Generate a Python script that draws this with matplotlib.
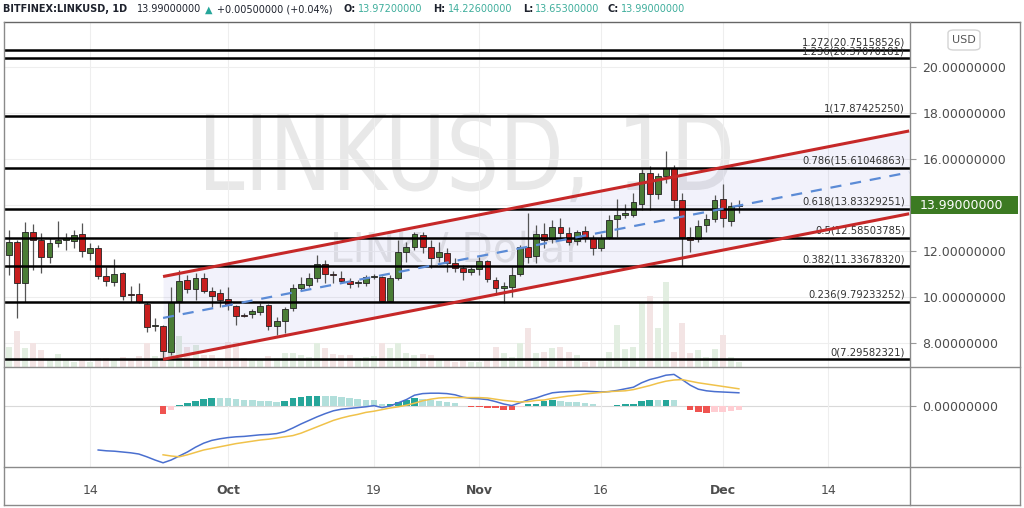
import numpy as np
import pandas as pd
import matplotlib
matplotlib.use("Agg")
import matplotlib.pyplot as plt
from matplotlib.lines import Line2D
from matplotlib.patches import Rectangle, FancyBboxPatch, PathPatch
from matplotlib.textpath import TextPath
from matplotlib.font_manager import FontProperties
from matplotlib.transforms import Affine2D, IdentityTransform, blended_transform_factory

plt.rcParams['font.family'] = ['DejaVu Sans']

# ---------------- data ----------------
symbol = "BITFINEX:LINKUSD, 1D"
watermark_main = "LINKUSD, 1D"
watermark_sub = "LINK / Dollar"
currency = "USD"
start_date = "2020-09-04"

opens = [11.83, 12.39, 10.61, 12.83, 12.48, 11.74, 12.35, 12.50, 12.43, 12.74,
         11.91, 12.13, 10.91, 10.65, 11.04, 10.09, 10.13, 9.70, 8.72, 8.74,
         7.61, 9.83, 10.74, 10.35, 10.83, 10.26, 10.17, 9.91, 9.61, 9.22,
         9.26, 9.35, 9.65, 8.74, 8.96, 9.52, 10.39, 10.52, 10.83, 11.43,
         11.00, 10.83, 10.70, 10.61, 10.61, 10.87, 10.87, 9.83, 10.83, 11.96,
         12.17, 12.70, 12.17, 11.74, 11.91, 11.48, 11.26, 11.09, 11.22, 11.57,
         10.74, 10.39, 10.43, 11.00, 12.17, 11.78, 12.74, 12.52, 13.04, 12.78,
         12.43, 12.87, 12.57, 12.13, 12.61, 13.39, 13.57, 13.57, 14.04, 15.39,
         14.48, 15.26, 15.61, 14.22, 12.61, 12.52, 13.13, 13.39, 14.26, 13.30,
         13.972]
highs = [12.91, 12.48, 13.26, 13.17, 12.78, 12.57, 13.30, 12.78, 12.91, 13.22,
         12.35, 12.26, 11.30, 11.65, 11.09, 10.48, 10.61, 9.78, 9.09, 8.78,
         10.43, 11.17, 10.96, 11.04, 11.04, 10.43, 10.35, 10.43, 9.65, 9.30,
         9.48, 9.74, 9.70, 9.13, 9.57, 10.57, 10.87, 11.04, 11.83, 11.61,
         11.13, 11.13, 10.83, 10.74, 10.96, 11.00, 10.91, 10.96, 12.48, 12.39,
         12.83, 12.83, 12.48, 12.39, 12.13, 11.70, 11.39, 11.30, 11.74, 11.61,
         10.87, 10.65, 11.30, 12.26, 13.65, 13.13, 13.22, 13.35, 13.43, 13.04,
         12.91, 13.09, 12.70, 12.74, 13.57, 14.26, 14.04, 14.52, 15.57, 15.70,
         15.39, 16.35, 15.74, 14.52, 13.04, 13.35, 13.61, 14.43, 14.91, 14.13,
         14.226]
lows = [10.96, 9.09, 9.78, 11.17, 11.04, 11.48, 12.17, 12.04, 12.13, 11.74,
        11.61, 10.78, 10.48, 10.48, 9.87, 9.78, 9.74, 8.48, 8.52, 7.30,
        7.48, 9.35, 10.17, 9.87, 10.17, 9.57, 9.57, 9.43, 8.78, 9.13,
        9.09, 9.22, 8.57, 8.35, 8.43, 9.39, 10.30, 10.43, 10.65, 10.61,
        10.61, 10.65, 10.39, 10.43, 10.48, 10.78, 9.83, 9.83, 10.74, 11.52,
        12.04, 11.91, 11.26, 11.52, 11.09, 11.09, 10.74, 10.96, 10.96, 10.65,
        10.09, 9.74, 10.00, 10.91, 11.48, 11.48, 12.13, 12.35, 12.48, 12.26,
        12.26, 12.39, 11.83, 12.00, 12.52, 12.61, 13.43, 13.48, 13.78, 13.78,
        14.26, 14.96, 13.87, 11.35, 11.96, 12.39, 12.83, 13.26, 13.04, 13.09,
        13.653]
closes = [12.39, 10.61, 12.83, 12.48, 11.74, 12.35, 12.48, 12.55, 12.70, 12.00,
          12.13, 10.91, 10.70, 11.00, 10.04, 10.07, 9.78, 8.70, 8.74, 7.65,
          9.78, 10.70, 10.35, 10.83, 10.26, 10.04, 9.87, 9.65, 9.17, 9.17,
          9.39, 9.61, 8.74, 8.96, 9.48, 10.39, 10.57, 10.83, 11.43, 11.00,
          10.96, 10.70, 10.57, 10.63, 10.87, 10.89, 9.83, 10.83, 11.96, 12.17,
          12.74, 12.17, 11.70, 11.96, 11.48, 11.26, 11.09, 11.22, 11.57, 10.78,
          10.39, 10.48, 10.96, 12.17, 11.74, 12.74, 12.48, 13.04, 12.78, 12.39,
          12.83, 12.57, 12.13, 12.57, 13.35, 13.57, 13.65, 14.13, 15.39, 14.48,
          15.26, 15.61, 14.22, 12.61, 12.48, 13.09, 13.39, 14.22, 13.43, 13.96,
          13.99]
volumes = [20, 36, 19, 24, 17, 7, 13, 7, 5, 8,
           5, 9, 9, 7, 10, 8, 11, 24, 11, 15,
           30, 31, 20, 22, 12, 12, 9, 25, 25, 9,
           8, 8, 11, 9, 14, 14, 12, 10, 24, 19,
           13, 12, 12, 9, 10, 11, 24, 19, 24, 14,
           12, 13, 12, 8, 8, 5, 7, 5, 5, 8,
           20, 14, 10, 24, 39, 14, 15, 19, 20, 15,
           12, 5, 7, 7, 15, 42, 18, 20, 64, 71,
           39, 85, 15, 44, 14, 17, 10, 18, 32, 10,
           5]
prev_close = 13.985

macd_start = 11
macd_line = [-1.10, -1.12, -1.13, -1.15, -1.17, -1.20, -1.27, -1.35,
             -1.42, -1.35, -1.25, -1.15, -1.03, -0.93, -0.86, -0.82,
             -0.79, -0.77, -0.76, -0.74, -0.72, -0.71, -0.69, -0.64,
             -0.55, -0.45, -0.36, -0.27, -0.19, -0.12, -0.08, -0.06,
             -0.04, -0.02, 0.01, -0.04, 0.00, 0.08, 0.16, 0.27,
             0.31, 0.32, 0.32, 0.31, 0.28, 0.22, 0.19, 0.18,
             0.16, 0.11, 0.05, 0.01, 0.08, 0.15, 0.20, 0.27,
             0.33, 0.35, 0.36, 0.37, 0.37, 0.36, 0.35, 0.36,
             0.39, 0.43, 0.47, 0.58, 0.66, 0.71, 0.77, 0.79,
             0.66, 0.52, 0.42, 0.38, 0.36, 0.35, 0.34, 0.33]
signal_start = 19
signal_line = [-1.22, -1.25, -1.27, -1.22, -1.16, -1.10, -1.06, -1.02,
               -0.98, -0.94, -0.91, -0.88, -0.85, -0.83, -0.80, -0.77,
               -0.74, -0.68, -0.60, -0.52, -0.44, -0.36, -0.30, -0.25,
               -0.21, -0.16, -0.13, -0.09, -0.05, -0.02, 0.02, 0.07,
               0.13, 0.17, 0.20, 0.21, 0.21, 0.21, 0.21, 0.21,
               0.20, 0.17, 0.14, 0.12, 0.10, 0.11, 0.14, 0.15,
               0.19, 0.22, 0.25, 0.27, 0.30, 0.32, 0.34, 0.36,
               0.37, 0.38, 0.41, 0.46, 0.51, 0.57, 0.62, 0.65,
               0.66, 0.62, 0.58, 0.55, 0.52, 0.49, 0.46, 0.43]

fib_ratios = [0, 0.236, 0.382, 0.5, 0.618, 0.786, 1, 1.236, 1.272]
fib_values = [7.29582321, 9.79233252, 11.33678320, 12.58503785, 13.83329251,
              15.61046863, 17.87425250, 20.37070181, 20.75158526]

channel_idx = [19, 111]
channel_mid = [9.09, 15.42]
channel_dev = 1.80

price_ticks = [8, 10, 12, 14, 16, 18, 20]
date_ticks = ['2020-09-14', '2020-10-01', '2020-10-19', '2020-11-01',
              '2020-11-16', '2020-12-01', '2020-12-14']
date_labels = ['14', 'Oct', '19', 'Nov', '16', 'Dec', '14']
month_labels = {'Oct', 'Nov', 'Dec'}

# ---------------- figure ----------------
W, H = 1024, 508
fig = plt.figure(figsize=(W / 100, H / 100), dpi=100)
fig.patch.set_facecolor('white')

def fx(x):
    return x / W

def fy(y):
    return 1 - y / H

dates = pd.date_range(start_date, periods=len(closes), freq='D')
idx = np.arange(len(closes))
t0 = dates[0]
tick_pos = [(pd.Timestamp(d) - t0).days for d in date_ticks]

XMIN, XMAX = -0.49, 111.1
GREEN = '#4a7d36'
RED = '#c81e1e'
TEXT = '#4d4d4d'
GRID = '#eeeeee'

# price pane
ax = fig.add_axes([fx(5), fy(367), fx(910) - fx(5), fy(22) - fy(367)])
ax.patch.set_visible(False)
ax.set_xlim(XMIN, XMAX)
ax.set_ylim(6.957, 21.957)
for s in ax.spines.values():
    s.set_visible(False)
ax.set_xticks(tick_pos)
ax.tick_params(axis='x', length=0, labelbottom=False)
ax.grid(True, color=GRID, lw=0.8, zorder=0)
ax.set_axisbelow(True)
ax.yaxis.tick_right()
ax.set_yticks(price_ticks)
# the 14 label is hidden behind the current-price tag in the reference
ax.set_yticklabels(['' if abs(v - closes[-1]) < 0.5 else f'{v:.8f}'
                    for v in price_ticks])
ax.tick_params(axis='y', length=4, color='#999999', pad=5, labelsize=9,
               labelcolor=TEXT)

pane_px = 345.0
# volume bars (faint, bottom of price pane)
vtrans = blended_transform_factory(ax.transData, ax.transAxes)
vol_cols = ['#e2eee1' if c >= o else '#f3e4e4' for o, c in zip(opens, closes)]
for i, v in enumerate(volumes):
    ax.add_patch(Rectangle((i - 0.37, 0), 0.74, v / pane_px, transform=vtrans,
                           facecolor=vol_cols[i], edgecolor='none', zorder=1))

# regression channel
cx = np.array(channel_idx, dtype=float)
cm = np.array(channel_mid)
ax.fill_between(cx, cm - channel_dev, cm + channel_dev, color='#4b4bc8',
                alpha=0.07, lw=0, zorder=1.5)

# candles
o = np.array(opens); h = np.array(highs); l = np.array(lows); c = np.array(closes)
up = c >= o
ax.vlines(idx, l, h, color='#555555', lw=0.9, zorder=3)
body_lo = np.minimum(o, c)
body_h = np.maximum(np.abs(c - o), 0.05)
ax.bar(idx, body_h, bottom=body_lo, width=0.72,
       color=np.where(up, GREEN, RED), edgecolor='#222222', lw=0.6, zorder=4)

# fibonacci levels
ltrans = blended_transform_factory(ax.transAxes, ax.transData)
for r, v in zip(fib_ratios, fib_values):
    ax.axhline(v, color='black', lw=1.8, zorder=5)
    ax.text(0.9945, v + 0.09, f'{r:g}({v:.8f})', transform=ltrans,
            ha='right', va='bottom', fontsize=7.2, color='#333333', zorder=5.5)

ax.plot(cx, cm + channel_dev, color='#c62828', lw=2.2, zorder=6,
        solid_capstyle='butt')
ax.plot(cx, cm - channel_dev, color='#c62828', lw=2.2, zorder=6,
        solid_capstyle='butt')
ax.plot(cx, cm, color='#5b8bd6', lw=1.6, dashes=(5, 4), zorder=6)

# MACD pane
axm = fig.add_axes([fx(5), fy(467), fx(910) - fx(5), fy(367) - fy(467)])
axm.patch.set_visible(False)
axm.set_xlim(XMIN, XMAX)
axm.set_ylim(-1.525, 0.975)
for s in axm.spines.values():
    s.set_visible(False)
axm.set_xticks(tick_pos)
axm.set_xticklabels(date_labels)
axm.tick_params(axis='x', length=0, pad=12, labelsize=9, labelcolor=TEXT)
for lab in axm.get_xticklabels():
    if lab.get_text() in month_labels:
        lab.set_fontweight('bold')
axm.grid(True, axis='x', color=GRID, lw=0.8)
axm.set_axisbelow(True)
axm.yaxis.tick_right()
axm.set_yticks([0])
axm.set_yticklabels(['0.00000000'])
axm.tick_params(axis='y', length=4, color='#999999', pad=5, labelsize=9,
                labelcolor=TEXT)
axm.axhline(0, color='#d9d9d9', lw=0.8, zorder=0.5)

mx = np.arange(macd_start, macd_start + len(macd_line))
sx = np.arange(signal_start, signal_start + len(signal_line))
macd_arr = np.array(macd_line)
sig_arr = np.array(signal_line)
hist = macd_arr[signal_start - macd_start:] - sig_arr
hcols = []
prev = 0.0
for hv in hist:
    if hv >= 0:
        hcols.append('#26a69a' if hv > prev else '#b2dfdb')
    else:
        hcols.append('#ef5350' if hv < prev else '#ffcdd2')
    prev = hv
axm.bar(sx, hist, width=0.8, color=hcols, lw=0, zorder=2)
axm.plot(mx, macd_arr, color='#4a6fcf', lw=1.1, zorder=3)
axm.plot(sx, sig_arr, color='#f0c24a', lw=1.1, zorder=3)

# ---------------- watermark ----------------
def stretched_text(s, x_left, baseline_y, width_px, cap_px, color):
    fp = FontProperties(family='DejaVu Sans')
    tp = TextPath((0, 0), s, size=100, prop=fp)
    cap = TextPath((0, 0), 'L', size=100, prop=fp).get_extents().height
    ext = tp.get_extents()
    tr = (Affine2D().translate(-ext.x0, 0)
          .scale(width_px / ext.width, cap_px / cap)
          .translate(x_left, H - baseline_y))
    fig.add_artist(PathPatch(tr.transform_path(tp), facecolor=color,
                             edgecolor='none', transform=IdentityTransform(),
                             zorder=-1))

stretched_text(watermark_main, 206, 190, 524, 76, '#e8e8e8')
stretched_text(watermark_sub, 334, 262, 248, 30, '#e6e6e6')

# ---------------- frame ----------------
def fline(x0, y0, x1, y1, color='#8a8a8a', lw=1.0):
    fig.add_artist(Line2D([fx(x0), fx(x1)], [fy(y0), fy(y1)], color=color,
                          lw=lw, transform=fig.transFigure, zorder=3))

fline(4, 22, 1020, 22, '#666666')
fline(4, 22, 4, 505)
fline(1020, 22, 1020, 505)
fline(4, 505, 1020, 505)
fline(910, 22, 910, 505)
fline(4, 367, 1020, 367)
fline(4, 467, 1020, 467)

# current price label
ypix = ax.transData.transform((0, closes[-1]))[1]
fig.add_artist(Rectangle((911, ypix - 9), 107, 18, transform=IdentityTransform(),
                         facecolor='#3c7a22', edgecolor='none', zorder=4))
fig.text(fx(920), ypix / H, f'{closes[-1]:.8f}', color='white', fontsize=9,
         ha='left', va='center', zorder=5)

# USD button
fig.add_artist(FancyBboxPatch((fx(948), fy(50)), fx(32), fy(30) - fy(50),
                              boxstyle='round,pad=0,rounding_size=0.006',
                              transform=fig.transFigure, facecolor='white',
                              edgecolor='#d4d4d4', lw=1, zorder=4))
fig.text(fx(964), fy(40), currency, fontsize=8, color='#555555',
         ha='center', va='center', zorder=5)

# ---------------- header ----------------
teal = '#3fae9c'
dark = '#1e222d'
chg = closes[-1] - prev_close
pct = chg / prev_close * 100
pieces = [
    (3, symbol, 'bold', dark),
    (137, f'{closes[-1]:.8f}', 'normal', dark),
    (205, '\u25b2', 'normal', '#26a69a'),
    (217, f'+{chg:.8f} (+{pct:.2f}%)', 'normal', dark),
    (343, 'O:', 'bold', dark),
    (358, f'{opens[-1]:.8f}', 'normal', teal),
    (433, 'H:', 'bold', dark),
    (448, f'{highs[-1]:.8f}', 'normal', teal),
    (523, 'L:', 'bold', dark),
    (535, f'{lows[-1]:.8f}', 'normal', teal),
    (608, 'C:', 'bold', dark),
    (621, f'{closes[-1]:.8f}', 'normal', teal),
]
for x, s, wt, col in pieces:
    fig.text(fx(x), fy(9.5), s, fontsize=7, fontweight=wt, color=col,
             ha='left', va='center')

fig.savefig('out.png', dpi=100, facecolor='white')
